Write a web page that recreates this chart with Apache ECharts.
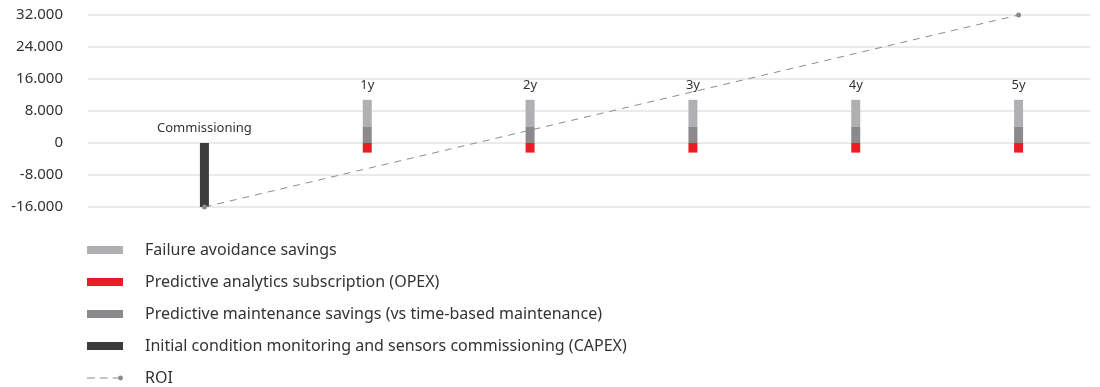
<!DOCTYPE html>
<html>
<head>
<meta charset="utf-8">
<script src="https://cdn.jsdelivr.net/npm/echarts@6/dist/echarts.min.js"></script>
<style>
  html, body { margin: 0; padding: 0; background: #ffffff; }
  #chart { width: 1100px; height: 387px; }
</style>
</head>
<body>
<div id="chart"></div>
<script>
// Stages of the investment timeline
const categories = ['Commissioning', '1y', '2y', '3y', '4y', '5y'];

// Cash flows per stage
const capex = [-16000, null, null, null, null, null];
const maintenanceSavings = [null, 4000, 4000, 4000, 4000, 4000];
const failureSavings = [null, 6800, 6800, 6800, 6800, 6800];
const opex = [null, -2400, -2400, -2400, -2400, -2400];

// Cumulative return, known at the start and end of the period
const roi = [-16000, null, null, null, null, 32000];

// Y axis range and step
const yMin = -16000;
const yMax = 32000;
const yStep = 8000;

const names = {
  failure: 'Failure avoidance savings',
  opex: 'Predictive analytics subscription (OPEX)',
  maint: 'Predictive maintenance savings (vs time-based maintenance)',
  capex: 'Initial condition monitoring and sensors commissioning (CAPEX)',
  roi: 'ROI'
};

const colors = {
  failure: '#b0b0b3',
  opex: '#ec1c24',
  maint: '#8a8a8d',
  capex: '#3c3c3c',
  roi: '#8c8c8c'
};

const FONT = 'Noto Sans';

function fmt(v) {
  const s = Math.abs(v).toString().replace(/\B(?=(\d{3})+(?!\d))/g, '.');
  return v < 0 ? '-' + s : s;
}

const stageLabel = {
  show: true,
  position: 'top',
  distance: 8,
  color: '#333333',
  fontFamily: FONT,
  fontSize: 13,
  formatter: p => p.name
};

const plotTop = 15;
const plotBottom = 180;

const chart = echarts.init(document.getElementById('chart'));
chart.setOption({
  animation: false,
  textStyle: { fontFamily: FONT },
  grid: [
    // frame with the value scale and guide lines
    { left: 88, right: 10, top: plotTop, bottom: plotBottom },
    // band layout for the stages
    { left: 123, width: 978, top: plotTop, bottom: plotBottom }
  ],
  xAxis: [
    { type: 'category', gridIndex: 0, data: categories, show: false },
    { type: 'category', gridIndex: 1, data: categories, show: false }
  ],
  yAxis: [
    {
      type: 'value',
      gridIndex: 0,
      min: yMin,
      max: yMax,
      interval: yStep,
      axisLine: { show: false },
      axisTick: { show: false },
      axisLabel: {
        margin: 25,
        color: '#333333',
        fontFamily: FONT,
        fontSize: 15,
        formatter: fmt
      },
      splitLine: { lineStyle: { color: '#e3e3e3', width: 1.5 } }
    },
    {
      type: 'value',
      gridIndex: 1,
      min: yMin,
      max: yMax,
      interval: yStep,
      show: false,
      splitLine: { show: false }
    }
  ],
  legend: {
    orient: 'vertical',
    left: 87,
    top: 242,
    padding: 0,
    itemWidth: 36,
    itemHeight: 8,
    itemGap: 16,
    data: [
      { name: names.failure, icon: 'rect' },
      { name: names.opex, icon: 'rect' },
      { name: names.maint, icon: 'rect' },
      { name: names.capex, icon: 'rect' },
      {
        name: names.roi,
        icon: 'path://M0,3.4h8v1.2H0z M13,3.4h8v1.2h-8z M26,3.4h6v1.2h-6z M34,1.5a2.5,2.5 0 1,1 0,5a2.5,2.5 0 1,1 0,-5z'
      }
    ],
    textStyle: {
      color: '#333333',
      fontFamily: FONT,
      fontSize: 16,
      lineHeight: 16,
      padding: [0, 0, 0, 17]
    }
  },
  series: [
    {
      name: names.capex,
      type: 'bar',
      xAxisIndex: 1,
      yAxisIndex: 1,
      stack: 'flow',
      barWidth: 9,
      itemStyle: { color: colors.capex },
      label: stageLabel,
      data: capex
    },
    {
      name: names.maint,
      type: 'bar',
      xAxisIndex: 1,
      yAxisIndex: 1,
      stack: 'flow',
      barWidth: 9,
      itemStyle: { color: colors.maint },
      data: maintenanceSavings
    },
    {
      name: names.failure,
      type: 'bar',
      xAxisIndex: 1,
      yAxisIndex: 1,
      stack: 'flow',
      barWidth: 9,
      itemStyle: { color: colors.failure },
      label: stageLabel,
      data: failureSavings
    },
    {
      name: names.opex,
      type: 'bar',
      xAxisIndex: 1,
      yAxisIndex: 1,
      stack: 'flow',
      barWidth: 9,
      itemStyle: { color: colors.opex },
      data: opex
    },
    {
      name: names.roi,
      type: 'line',
      xAxisIndex: 1,
      yAxisIndex: 1,
      connectNulls: true,
      symbol: 'circle',
      symbolSize: 5,
      itemStyle: { color: colors.roi },
      lineStyle: { color: colors.roi, width: 1, type: [7, 6] },
      z: 5,
      data: roi
    }
  ]
});
</script>
</body>
</html>
